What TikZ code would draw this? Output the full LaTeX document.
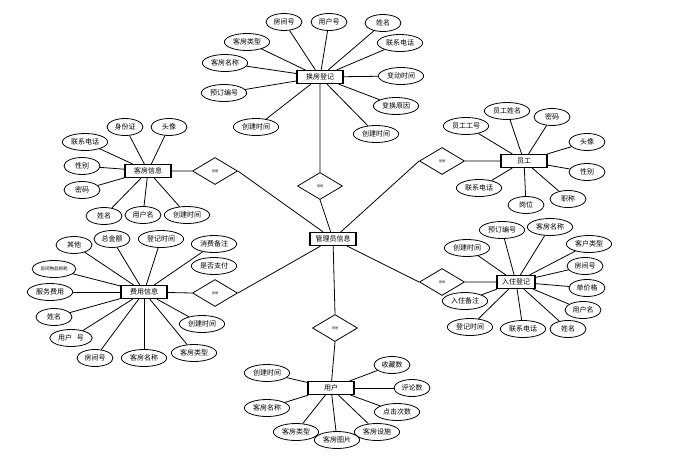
\documentclass[tikz,border=0pt]{standalone}
\usepackage{fontspec}
\setmainfont{Noto Sans CJK SC}
\usetikzlibrary{shapes.geometric}
\begin{document}
\begin{tikzpicture}[x=1pt,y=-1pt,line width=0.8pt,font=\fontsize{7}{8}\selectfont,
	attr/.style={draw,ellipse,inner xsep=2pt,inner ysep=0pt,minimum width=36pt,minimum height=17pt},
	ent/.style={draw,line width=1.2pt,minimum width=46pt,minimum height=13pt,inner sep=1pt},
	rel/.style={draw,diamond,aspect=1.7,inner sep=0pt,minimum width=45pt,minimum height=27pt,font=\fontsize{3}{3}\selectfont}]
			\useasboundingbox (0,0) rectangle (678,469);
			% entities
			\node[ent] (hf) at (320,77) {换房登记};
			\node[ent] (gl) at (333,239) {管理员信息};
			\node[ent] (kf) at (148,171) {客房信息};
			\node[ent] (fy) at (144,292) {费用信息};
			\node[ent] (yg) at (524,161) {员工};
			\node[ent,minimum width=38pt] (rz) at (516,282) {入住登记};
			\node[ent] (yh) at (331,388) {用户};
			% relations
			\node[rel] (r1) at (320,186) {管理};
			\node[rel] (r2) at (215,171) {管理};
			\node[rel] (r3) at (215,293) {管理};
			\node[rel] (r4) at (335,328) {管理};
			\node[rel] (r5) at (442,161) {管理};
			\node[rel] (r6) at (442,282) {管理};
			\draw (hf) -- (r1.north) (r1.south) -- (gl);
			\draw (kf) -- (r2.west) (r2.east) -- (gl);
			\draw (fy) -- (r3.west) (r3.east) -- (gl);
			\draw (gl) -- (r4.north) (r4.south) -- (yh);
			\draw (gl) -- (r5.west) (r5.east) -- (yg);
			\draw (gl) -- (r6.west) (r6.east) -- (rz);
			% attributes
			\foreach \n/\x/\y/\t in {h1/284/22/房间号,h2/329/22/用户号,h3/383/23/姓名,h4/400/43/联系电话,h5/247/42/客房类型,h6/225/63/客房名称,h7/224/93/预订编号,h8/256/127/创建时间,h9/401/76/变动时间,h10/396/106/变换原因,h11/376/134/创建时间}
				{\node[attr] (\n) at (\x,\y) {\t}; \draw (hf) -- (\n);}
			\foreach \n/\x/\y/\t in {k1/125/127/身份证,k2/169/127/头像,k3/85/142/联系电话,k4/82/166/性别,k5/82/190/密码,k6/104/216/姓名,k7/143/215/用户名,k8/187/215/创建时间}
				{\node[attr] (\n) at (\x,\y) {\t}; \draw (kf) -- (\n);}
			\foreach \n/\x/\y/\t in {f1/74/245/其他,f2/112/239/总金额,f3/161/239/登记时间,f4/214/244/消费备注,f5/54/269/{\fontsize{4.5}{5}\selectfont 房间物品损耗},f6/50/292/服务费用,f7/54/317/姓名,f8/71/338/{用户\hspace{5pt}号},f9/95/358/房间号,f10/144/358/客房名称,f11/194/353/客房类型,f12/202/324/创建时间}
				{\node[attr] (\n) at (\x,\y) {\t}; \draw (fy) -- (\n);}
			\node[attr] (f13) at (214,266) {是否支付};
			\foreach \n/\x/\y/\t in {y1/466/126/员工工号,y2/507/111/员工姓名,y3/552/117/密码,y4/587/142/头像,y5/587/172/性别,y6/479/188/联系电话,y7/526/205/岗位,y8/568/199/职称}
				{\node[attr] (\n) at (\x,\y) {\t}; \draw (yg) -- (\n);}
			\foreach \n/\x/\y/\t in {z1/502/230/预订编号,z2/550/227/客房名称,z3/467/248/创建时间,z4/589/244/客户类型,z5/585/266/房间号,z6/587/288/单价格,z7/583/310/用户名,z8/465/301/入住备注,z9/470/327/登记时间,z10/523/329/联系电话,z11/568/329/姓名}
				{\node[attr] (\n) at (\x,\y) {\t}; \draw (rz) -- (\n);}
			\foreach \n/\x/\y/\t in {u1/267/373/创建时间,u2/267/408/客房名称,u3/296/432/客房类型,u4/337/440/客房图片,u5/377/432/客房设施,u6/392/365/收藏数,u7/412/388/评论数,u8/397/412/点击次数}
				{\node[attr] (\n) at (\x,\y) {\t}; \draw (yh) -- (\n);}
	\end{tikzpicture}
\end{document}
